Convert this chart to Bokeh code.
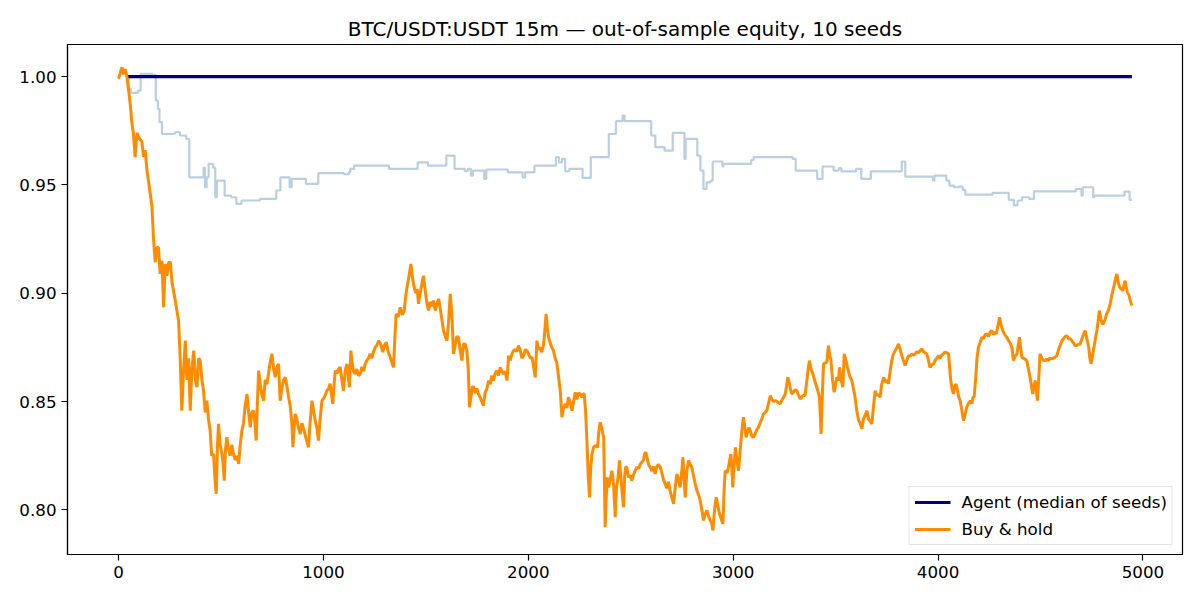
from bokeh.plotting import figure
from bokeh.models import Range1d, FixedTicker, PrintfTickFormatter, Legend
from bokeh.embed import file_html
from bokeh.resources import INLINE

TITLE = "BTC/USDT:USDT 15m \u2014 out-of-sample equity, 10 seeds"
X_TICKS = [0, 1000, 2000, 3000, 4000, 5000]
Y_TICKS = [0.80, 0.85, 0.90, 0.95, 1.00]

# Agent (median of seeds)
agent_x = [40, 4946]
agent_y = [1.0, 1.0]

# One visible seed equity curve (step-like)
seed_x = [41, 50, 60, 95, 108, 165, 182, 192, 200, 212, 275, 300, 330, 345, 415, 422, 430, 440, 462, 472,
          480, 518, 550, 575, 600, 690, 770, 790, 835, 845, 915, 975, 1100, 1125, 1131, 1150, 1320, 1460, 1510, 1600,
          1640, 1690, 1705, 1720, 1730, 1785, 1795, 1900, 1972, 1985, 2030, 2135, 2150, 2165, 2180, 2200, 2265, 2305, 2393, 2428,
          2460, 2470, 2600, 2620, 2665, 2705, 2762, 2768, 2825, 2840, 2855, 2870, 2890, 2900, 2947, 2952, 3088, 3100, 3290, 3305,
          3410, 3436, 3490, 3515, 3528, 3600, 3625, 3672, 3823, 3840, 3975, 3982, 4040, 4055, 4078, 4100, 4120, 4133, 4266, 4345,
          4370, 4388, 4410, 4445, 4468, 4672, 4700, 4706, 4757, 4763, 4910, 4935, 4946]
seed_y = [1.0, 0.9945, 0.9925, 0.9935, 1.0012, 1.0008, 0.989, 0.985, 0.979, 0.9735, 0.9743, 0.9728, 0.9712, 0.9535, 0.958, 0.9489, 0.9535, 0.9597, 0.958, 0.9443,
          0.952, 0.945, 0.9443, 0.9412, 0.9428, 0.9435, 0.9474, 0.9535, 0.9489, 0.9528, 0.9505, 0.9554, 0.955, 0.9558, 0.9574, 0.9589, 0.9574, 0.9604, 0.9589, 0.9635,
          0.9574, 0.9563, 0.9574, 0.9543, 0.9566, 0.9528, 0.9571, 0.9558, 0.9535, 0.9558, 0.9589, 0.9628, 0.9604, 0.962, 0.9563, 0.9574, 0.9532, 0.9628, 0.9735, 0.9794,
          0.982, 0.9794, 0.9728, 0.9674, 0.9658, 0.974, 0.962, 0.9712, 0.9635, 0.9566, 0.9481, 0.9512, 0.952, 0.9608, 0.9585, 0.9597, 0.9615, 0.9628, 0.962, 0.9566,
          0.9528, 0.9585, 0.9566, 0.9577, 0.9562, 0.9574, 0.9528, 0.9562, 0.9608, 0.9538, 0.952, 0.9543, 0.952, 0.9497, 0.9489, 0.9492, 0.9477, 0.9455, 0.9463, 0.9431,
          0.9405, 0.9428, 0.9443, 0.9435, 0.947, 0.9481, 0.945, 0.9489, 0.9443, 0.945, 0.9469, 0.9431, 0.9431]

# Buy & hold equity
bh_x = [0, 8, 17, 25, 33, 41, 57, 65, 73, 81, 90, 98, 114, 122, 130, 139, 155, 163, 171, 179,
        187, 195, 203, 212, 220, 228, 236, 245, 253, 261, 277, 293, 301, 309, 318, 326, 334, 342, 350, 358,
        367, 375, 383, 391, 399, 407, 415, 423, 431, 439, 447, 455, 464, 470, 477, 483, 488, 496, 505, 510,
        516, 522, 529, 537, 545, 553, 561, 570, 578, 586, 594, 602, 610, 618, 627, 635, 643, 651, 659, 666,
        672, 678, 684, 692, 700, 708, 716, 724, 732, 740, 749, 757, 765, 773, 781, 789, 797, 806, 814, 822,
        830, 838, 846, 851, 857, 862, 870, 878, 887, 895, 906, 915, 921, 927, 935, 944, 952, 960, 968, 976,
        984, 993, 1005, 1017, 1025, 1033, 1040, 1046, 1052, 1058, 1066, 1074, 1082, 1090, 1098, 1106, 1115, 1121, 1127, 1134,
        1140, 1147, 1155, 1163, 1172, 1180, 1188, 1196, 1204, 1212, 1220, 1228, 1236, 1245, 1253, 1261, 1269, 1278, 1290, 1298,
        1307, 1316, 1326, 1334, 1342, 1349, 1355, 1365, 1375, 1385, 1394, 1401, 1408, 1418, 1427, 1435, 1443, 1451, 1458, 1464,
        1472, 1480, 1488, 1496, 1504, 1513, 1521, 1529, 1537, 1546, 1554, 1562, 1570, 1578, 1586, 1595, 1603, 1611, 1619, 1627,
        1635, 1643, 1651, 1659, 1667, 1676, 1684, 1692, 1700, 1707, 1713, 1720, 1727, 1733, 1741, 1749, 1757, 1765, 1773, 1781,
        1789, 1798, 1806, 1814, 1822, 1830, 1838, 1847, 1855, 1863, 1871, 1879, 1887, 1896, 1904, 1912, 1920, 1928, 1936, 1944,
        1952, 1960, 1969, 1977, 1985, 1993, 2001, 2010, 2018, 2026, 2034, 2042, 2050, 2058, 2066, 2074, 2080, 2087, 2093, 2099,
        2107, 2115, 2123, 2131, 2139, 2147, 2156, 2164, 2172, 2180, 2188, 2196, 2204, 2213, 2221, 2229, 2237, 2245, 2253, 2262,
        2268, 2273, 2280, 2286, 2293, 2299, 2305, 2311, 2319, 2327, 2338, 2344, 2351, 2358, 2364, 2368, 2372, 2375, 2380, 2385,
        2392, 2400, 2408, 2416, 2420, 2424, 2430, 2438, 2445, 2452, 2458, 2465, 2470, 2475, 2481, 2489, 2497, 2505, 2513, 2521,
        2530, 2538, 2546, 2554, 2562, 2568, 2574, 2580, 2587, 2595, 2603, 2611, 2619, 2627, 2635, 2644, 2652, 2660, 2668, 2676,
        2684, 2692, 2700, 2709, 2717, 2725, 2733, 2741, 2748, 2755, 2760, 2766, 2774, 2782, 2790, 2798, 2806, 2815, 2823, 2831,
        2839, 2847, 2855, 2863, 2872, 2880, 2888, 2895, 2901, 2909, 2917, 2925, 2933, 2941, 2950, 2956, 2961, 2969, 2977, 2983,
        2989, 2994, 2998, 3004, 3011, 3018, 3026, 3032, 3038, 3044, 3050, 3057, 3063, 3070, 3077, 3083, 3091, 3099, 3107, 3115,
        3123, 3131, 3140, 3148, 3156, 3164, 3172, 3181, 3189, 3197, 3205, 3213, 3221, 3229, 3237, 3246, 3254, 3260, 3267, 3275,
        3280, 3286, 3295, 3303, 3311, 3319, 3327, 3335, 3343, 3351, 3360, 3366, 3372, 3380, 3389, 3397, 3408, 3416, 3421, 3426,
        3429, 3434, 3441, 3449, 3457, 3465, 3470, 3477, 3485, 3493, 3500, 3506, 3514, 3519, 3527, 3535, 3542, 3550, 3558, 3568,
        3579, 3587, 3595, 3603, 3612, 3620, 3628, 3636, 3645, 3653, 3660, 3668, 3677, 3685, 3693, 3700, 3709, 3717, 3725, 3734,
        3742, 3750, 3758, 3766, 3774, 3782, 3791, 3799, 3807, 3815, 3823, 3831, 3839, 3847, 3856, 3864, 3872, 3880, 3888, 3896,
        3904, 3913, 3921, 3929, 3937, 3945, 3953, 3961, 3970, 3978, 3986, 3994, 4002, 4010, 4018, 4026, 4034, 4043, 4051, 4057,
        4062, 4068, 4075, 4081, 4088, 4095, 4101, 4108, 4116, 4124, 4132, 4140, 4148, 4157, 4165, 4170, 4176, 4183, 4190, 4197,
        4205, 4214, 4222, 4230, 4238, 4246, 4254, 4262, 4270, 4278, 4284, 4292, 4300, 4308, 4316, 4324, 4336, 4344, 4352, 4360,
        4368, 4376, 4385, 4391, 4397, 4403, 4409, 4417, 4425, 4433, 4441, 4449, 4456, 4462, 4468, 4474, 4480, 4485, 4491, 4498,
        4506, 4514, 4522, 4530, 4538, 4546, 4555, 4563, 4571, 4580, 4588, 4596, 4604, 4612, 4620, 4629, 4637, 4645, 4653, 4661,
        4669, 4677, 4685, 4694, 4702, 4710, 4718, 4726, 4735, 4741, 4746, 4752, 4758, 4766, 4775, 4781, 4787, 4795, 4801, 4807,
        4815, 4823, 4831, 4840, 4846, 4853, 4860, 4867, 4873, 4879, 4886, 4894, 4902, 4908, 4913, 4918, 4924, 4932, 4940, 4946]
bh_y = [0.9990, 1.0015, 1.0043, 1.0010, 1.0035, 1.0000, 0.9875, 0.9790, 0.9735, 0.9628, 0.9740, 0.9720, 0.9700, 0.9630, 0.9660, 0.9566, 0.9459, 0.9400, 0.9250, 0.9143,
        0.9210, 0.9212, 0.9090, 0.9150, 0.8935, 0.9135, 0.9080, 0.9143, 0.9143, 0.9050, 0.8966, 0.8874, 0.8700, 0.8458, 0.8650, 0.8781, 0.8600, 0.8700, 0.8458, 0.8650,
        0.8735, 0.8600, 0.8566, 0.8700, 0.8688, 0.8600, 0.8550, 0.8450, 0.8504, 0.8420, 0.8366, 0.8250, 0.8258, 0.8150, 0.8074, 0.8300, 0.8397, 0.8300, 0.8258, 0.8220,
        0.8135, 0.8280, 0.8335, 0.8280, 0.8250, 0.8300, 0.8258, 0.8230, 0.8250, 0.8212, 0.8300, 0.8366, 0.8400, 0.8480, 0.8535, 0.8450, 0.8381, 0.8450, 0.8458, 0.8400,
        0.8320, 0.8500, 0.8643, 0.8580, 0.8530, 0.8504, 0.8600, 0.8580, 0.8627, 0.8680, 0.8720, 0.8650, 0.8612, 0.8660, 0.8674, 0.8504, 0.8560, 0.8600, 0.8612, 0.8570,
        0.8520, 0.8480, 0.8400, 0.8289, 0.8380, 0.8443, 0.8420, 0.8380, 0.8350, 0.8400, 0.8366, 0.8330, 0.8310, 0.8289, 0.8400, 0.8504, 0.8460, 0.8412, 0.8380, 0.8320,
        0.8420, 0.8504, 0.8520, 0.8550, 0.8560, 0.8582, 0.8530, 0.8489, 0.8580, 0.8643, 0.8630, 0.8650, 0.8658, 0.8600, 0.8550, 0.8640, 0.8674, 0.8620, 0.8566, 0.8735,
        0.8680, 0.8640, 0.8627, 0.8650, 0.8620, 0.8627, 0.8660, 0.8640, 0.8674, 0.8690, 0.8700, 0.8720, 0.8700, 0.8730, 0.8751, 0.8760, 0.8781, 0.8770, 0.8728, 0.8760,
        0.8774, 0.8730, 0.8704, 0.8680, 0.8658, 0.8800, 0.8905, 0.8890, 0.8935, 0.8900, 0.8920, 0.8980, 0.9028, 0.9080, 0.9135, 0.9070, 0.9028, 0.9000, 0.9020, 0.8951,
        0.9000, 0.9040, 0.9081, 0.9020, 0.8960, 0.8920, 0.8960, 0.8940, 0.8966, 0.8920, 0.8950, 0.8974, 0.8930, 0.8880, 0.8828, 0.8800, 0.8781, 0.8870, 0.8997, 0.8900,
        0.8720, 0.8760, 0.8800, 0.8797, 0.8740, 0.8689, 0.8766, 0.8766, 0.8735, 0.8650, 0.8474, 0.8520, 0.8570, 0.8566, 0.8540, 0.8560, 0.8535, 0.8520, 0.8500, 0.8481,
        0.8540, 0.8560, 0.8597, 0.8580, 0.8620, 0.8597, 0.8630, 0.8643, 0.8620, 0.8658, 0.8640, 0.8627, 0.8640, 0.8597, 0.8712, 0.8690, 0.8720, 0.8735, 0.8740, 0.8730,
        0.8758, 0.8740, 0.8700, 0.8712, 0.8740, 0.8735, 0.8720, 0.8700, 0.8704, 0.8660, 0.8612, 0.8781, 0.8740, 0.8750, 0.8728, 0.8760, 0.8820, 0.8905, 0.8840, 0.8797,
        0.8770, 0.8750, 0.8735, 0.8700, 0.8681, 0.8620, 0.8550, 0.8428, 0.8470, 0.8489, 0.8470, 0.8520, 0.8500, 0.8458, 0.8500, 0.8543, 0.8510, 0.8540, 0.8535, 0.8520,
        0.8535, 0.8535, 0.8450, 0.8320, 0.8150, 0.8058, 0.8200, 0.8258, 0.8290, 0.8297, 0.8289, 0.8360, 0.8404, 0.8380, 0.8350, 0.8335, 0.8100, 0.7920, 0.8050, 0.8150,
        0.8104, 0.8140, 0.8181, 0.8120, 0.8050, 0.7966, 0.8100, 0.8150, 0.8228, 0.8150, 0.8080, 0.8012, 0.8150, 0.8197, 0.8197, 0.8150, 0.8160, 0.8135, 0.8160, 0.8180,
        0.8197, 0.8190, 0.8210, 0.8220, 0.8230, 0.8260, 0.8266, 0.8240, 0.8210, 0.8197, 0.8180, 0.8200, 0.8166, 0.8200, 0.8210, 0.8197, 0.8170, 0.8140, 0.8120, 0.8100,
        0.8130, 0.8089, 0.8060, 0.8028, 0.8100, 0.8166, 0.8140, 0.8104, 0.8170, 0.8243, 0.8150, 0.8058, 0.8180, 0.8228, 0.8210, 0.8197, 0.8160, 0.8120, 0.8089, 0.8070,
        0.8043, 0.8000, 0.7951, 0.7980, 0.7997, 0.7970, 0.7951, 0.7940, 0.7905, 0.8000, 0.8058, 0.8020, 0.7982, 0.7960, 0.7935, 0.8100, 0.8181, 0.8170, 0.8197, 0.8230,
        0.8258, 0.8180, 0.8104, 0.8200, 0.8289, 0.8230, 0.8181, 0.8250, 0.8320, 0.8380, 0.8428, 0.8380, 0.8335, 0.8360, 0.8380, 0.8366, 0.8340, 0.8335, 0.8350, 0.8370,
        0.8381, 0.8400, 0.8420, 0.8443, 0.8450, 0.8458, 0.8490, 0.8528, 0.8510, 0.8500, 0.8504, 0.8500, 0.8495, 0.8489, 0.8505, 0.8520, 0.8535, 0.8570, 0.8612, 0.8580,
        0.8555, 0.8535, 0.8545, 0.8555, 0.8550, 0.8530, 0.8512, 0.8520, 0.8530, 0.8528, 0.8600, 0.8650, 0.8689, 0.8650, 0.8627, 0.8600, 0.8566, 0.8540, 0.8520, 0.8420,
        0.8351, 0.8500, 0.8674, 0.8678, 0.8681, 0.8758, 0.8720, 0.8689, 0.8600, 0.8543, 0.8580, 0.8612, 0.8597, 0.8658, 0.8600, 0.8566, 0.8720, 0.8690, 0.8658, 0.8620,
        0.8597, 0.8560, 0.8520, 0.8460, 0.8412, 0.8400, 0.8374, 0.8420, 0.8440, 0.8458, 0.8420, 0.8410, 0.8397, 0.8480, 0.8550, 0.8530, 0.8530, 0.8520, 0.8580, 0.8612,
        0.8590, 0.8600, 0.8582, 0.8640, 0.8689, 0.8720, 0.8735, 0.8750, 0.8766, 0.8740, 0.8712, 0.8690, 0.8666, 0.8690, 0.8712, 0.8710, 0.8720, 0.8715, 0.8720, 0.8730,
        0.8725, 0.8735, 0.8743, 0.8730, 0.8725, 0.8720, 0.8690, 0.8658, 0.8670, 0.8674, 0.8690, 0.8700, 0.8712, 0.8700, 0.8715, 0.8720, 0.8728, 0.8725, 0.8720, 0.8650,
        0.8597, 0.8560, 0.8535, 0.8570, 0.8581, 0.8550, 0.8520, 0.8504, 0.8460, 0.8412, 0.8440, 0.8474, 0.8490, 0.8504, 0.8490, 0.8520, 0.8520, 0.8600, 0.8700, 0.8751,
        0.8770, 0.8797, 0.8790, 0.8810, 0.8812, 0.8800, 0.8820, 0.8828, 0.8810, 0.8820, 0.8812, 0.8850, 0.8889, 0.8850, 0.8828, 0.8810, 0.8797, 0.8780, 0.8770, 0.8751,
        0.8689, 0.8710, 0.8720, 0.8760, 0.8797, 0.8750, 0.8704, 0.8700, 0.8695, 0.8689, 0.8650, 0.8612, 0.8570, 0.8535, 0.8570, 0.8597, 0.8550, 0.8504, 0.8600, 0.8720,
        0.8700, 0.8690, 0.8689, 0.8695, 0.8690, 0.8700, 0.8697, 0.8700, 0.8705, 0.8712, 0.8740, 0.8760, 0.8781, 0.8790, 0.8800, 0.8804, 0.8790, 0.8790, 0.8781, 0.8770,
        0.8758, 0.8760, 0.8765, 0.8766, 0.8790, 0.8810, 0.8828, 0.8790, 0.8751, 0.8700, 0.8674, 0.8700, 0.8735, 0.8780, 0.8828, 0.8870, 0.8920, 0.8880, 0.8860, 0.8859,
        0.8880, 0.8905, 0.8920, 0.8951, 0.8980, 0.9012, 0.9040, 0.9070, 0.9089, 0.9050, 0.9028, 0.9020, 0.9012, 0.9040, 0.9058, 0.9030, 0.9004, 0.8990, 0.8960, 0.8943]

FONT = "DejaVu Sans"

p = figure(width=1192, height=592, output_backend="svg", toolbar_location=None,
           x_range=Range1d(-249, 5193), y_range=Range1d(0.7794, 1.0148),
           title=TITLE, min_border_left=67, min_border_right=10,
           min_border_top=44, min_border_bottom=38)

p.title.text_font = FONT
p.title.text_font_size = "20px"
p.title.text_font_style = "normal"
p.title.align = "center"
p.title.text_color = "black"
p.title.standoff = 8

p.xgrid.visible = False
p.ygrid.visible = False
p.outline_line_color = "black"
p.outline_line_width = 1.2
p.background_fill_color = "white"
p.border_fill_color = "white"

for ax in (p.xaxis[0], p.yaxis[0]):
    ax.axis_line_color = "black"
    ax.axis_line_width = 1.2
    ax.major_tick_line_color = "black"
    ax.major_tick_line_width = 1.2
    ax.major_tick_out = 6
    ax.major_tick_in = 0
    ax.minor_tick_line_color = None
    ax.major_label_text_font = FONT
    ax.major_label_text_font_size = "16.7px"
    ax.major_label_text_color = "black"
    ax.major_label_standoff = 5

p.xaxis.ticker = FixedTicker(ticks=X_TICKS)
p.xaxis.formatter = PrintfTickFormatter(format="%d")
p.yaxis.ticker = FixedTicker(ticks=Y_TICKS)
p.yaxis.formatter = PrintfTickFormatter(format="%.2f")

p.step(seed_x, seed_y, mode="after", line_color="steelblue", line_alpha=0.38, line_width=2.2)
r_agent = p.line(agent_x, agent_y, line_color="navy", line_width=3.2)
r_bh = p.line(bh_x, bh_y, line_color="darkorange", line_width=3.0)

legend = Legend(items=[("Agent (median of seeds)", [r_agent]), ("Buy & hold", [r_bh])],
                location="bottom_right")
legend.label_text_font = FONT
legend.label_text_font_size = "16.7px"
legend.label_text_color = "black"
legend.border_line_color = "#cccccc"
legend.border_line_width = 1
legend.background_fill_alpha = 0.8
legend.glyph_width = 36
legend.glyph_height = 20
legend.label_height = 20
legend.label_standoff = 11
legend.spacing = 7
legend.padding = 5
legend.margin = 9
p.add_layout(legend, "center")

open("out.html", "w").write(file_html(p, INLINE))
